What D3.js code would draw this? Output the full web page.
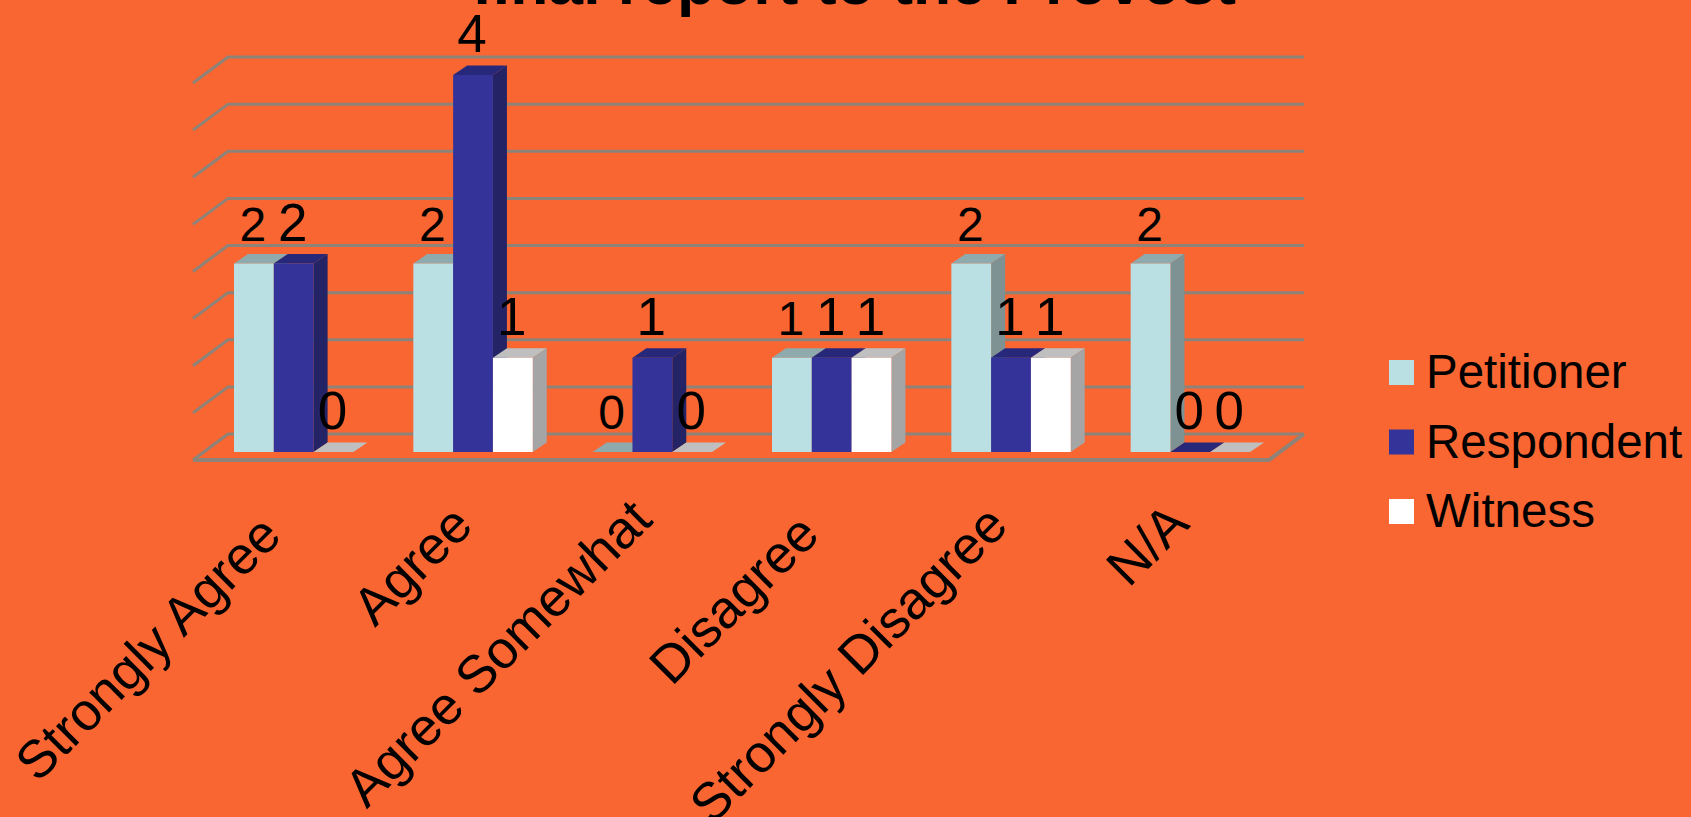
<!DOCTYPE html>
<html>
<head>
<meta charset="utf-8">
<title>final report to the Provost</title>
<script src="https://cdn.jsdelivr.net/npm/d3@7"></script>
<style>
  html, body { margin: 0; padding: 0; background: #f96632; overflow: hidden; }
  svg { display: block; font-family: "Liberation Sans", Arial, sans-serif; }
</style>
</head>
<body>
<script>
  // DATA
  const categories = ["Strongly Agree", "Agree", "Agree Somewhat", "Disagree", "Strongly Disagree", "N/A"];
  const seriesNames = ["Petitioner", "Respondent", "Witness"];
  const petitioner = [2, 2, 0, 1, 2, 2];
  const respondent = [2, 4, 1, 1, 1, 0];
  const witness = [0, 1, 0, 1, 1, 0];
  const seriesValues = [petitioner, respondent, witness];

  // CONST DECLARATIONS
  const width = 1691;
  const height = 817;
  const COLORS = [
    { front: "#bbe0e3", top: "#8faaad", side: "#7e9294", size: 48 },
    { front: "#333399", top: "#28287a", side: "#232366", size: 53 },
    { front: "#ffffff", top: "#bfbfbf", side: "#a5a5a5", size: 53 },
  ];
  const GRID_COLOR = "#8e8379";
  // floor depth of the box, and where the bars stand on that floor
  const floorDepth = { x: 35, y: -26 };
  const barInset = { x: 11, y: -8 };
  const barDepth = { x: 14, y: -9.5 };
  // the rotated axis labels do not all end at the same spot
  const labelShift = [[-10, 10], [2, 0], [2, -6], [-10, 9], [-1, 0], [1, -2]];

  // SVG
  const svg = d3.select("body").append("svg").attr("width", width).attr("height", height);

  // SCALES
  const xScale = d3.scaleBand().domain(categories).range([193, 1269]);
  const xSeries = d3.scaleBand().domain(seriesNames).range([30, 149.4]);
  const yScale = d3.scaleLinear().domain([0, 4]).range([460, 83]);

  const floorRight = xScale.range()[1];
  const floorLeft = xScale.range()[0];

  // BOX GRID
  const grid = svg.append("g").attr("fill", "none").attr("stroke", GRID_COLOR).attr("stroke-width", 3);
  grid.selectAll("path")
    .data(yScale.ticks(8))
    .enter()
    .append("path")
    .attr("d", (d) => {
      const y = yScale(d);
      return `M${floorLeft},${y}L${floorLeft + floorDepth.x},${y + floorDepth.y}H${floorRight + floorDepth.x}`;
    });
  grid.append("path")
    .attr("stroke-width", 4)
    .attr("d", `M${floorLeft},${yScale(0)}H${floorRight}L${floorRight + floorDepth.x},${yScale(0) + floorDepth.y}`);

  // BARS
  const bars = [];
  categories.forEach((c, i) => {
    seriesNames.forEach((s, j) => {
      bars.push({ category: c, series: s, value: seriesValues[j][i], color: COLORS[j] });
    });
  });
  const barX = (d) => xScale(d.category) + xSeries(d.series) + barInset.x;
  const barTop = (d) => yScale(d.value) + barInset.y;
  const barBottom = yScale(0) + barInset.y;

  const barGroups = svg.selectAll(".bar").data(bars).enter().append("g").attr("class", "bar");

  barGroups.append("path")
    .attr("fill", (d) => d.color.top)
    .attr("d", (d) => {
      const x = barX(d), y = barTop(d), w = xSeries.bandwidth();
      return `M${x},${y}l${barDepth.x},${barDepth.y}h${w}l${-barDepth.x},${-barDepth.y}Z`;
    });
  barGroups.append("path")
    .attr("fill", (d) => d.color.side)
    .attr("d", (d) => {
      const x = barX(d) + xSeries.bandwidth(), y = barTop(d);
      return `M${x},${y}l${barDepth.x},${barDepth.y}V${barBottom + barDepth.y}L${x},${barBottom}Z`;
    });
  barGroups.append("rect")
    .attr("fill", (d) => d.color.front)
    .attr("x", barX)
    .attr("y", barTop)
    .attr("width", xSeries.bandwidth())
    .attr("height", (d) => barBottom - barTop(d));

  // VALUE LABELS
  svg.selectAll(".value")
    .data(bars)
    .enter()
    .append("text")
    .attr("class", "value")
    .attr("text-anchor", "middle")
    .attr("font-size", (d) => d.color.size)
    .attr("x", (d) => barX(d) + xSeries.bandwidth() / 2 - 1)
    .attr("y", (d) => barTop(d) - 23)
    .text((d) => d.value);

  // CATEGORY LABELS
  svg.selectAll(".category")
    .data(categories)
    .enter()
    .append("text")
    .attr("class", "category")
    .attr("text-anchor", "end")
    .attr("font-size", 53)
    .attr("transform", (d, i) => {
      const x = xScale(d) + xScale.bandwidth() / 2 + barInset.x + labelShift[i][0];
      const y = 528 + labelShift[i][1];
      return `translate(${x},${y}) rotate(-45)`;
    })
    .text((d) => d);

  // LEGEND
  const legendY = d3.scalePoint().domain(seriesNames).range([360, 499]);
  const legend = svg.selectAll(".legend").data(seriesNames).enter().append("g").attr("class", "legend");
  legend.append("rect")
    .attr("x", 1389)
    .attr("y", (d) => legendY(d))
    .attr("width", 25)
    .attr("height", 25)
    .attr("fill", (d, i) => COLORS[i].front);
  legend.append("text")
    .attr("x", 1426)
    .attr("y", (d) => legendY(d) + 28)
    .attr("font-size", 47.5)
    .text((d) => d);

  // TITLE, cut by the top of the page
  svg.append("text")
    .attr("x", 854)
    .attr("y", 4)
    .attr("text-anchor", "middle")
    .attr("font-size", 62.5)
    .attr("font-weight", "bold")
    .text("final report to the Provost");
</script>
</body>
</html>
